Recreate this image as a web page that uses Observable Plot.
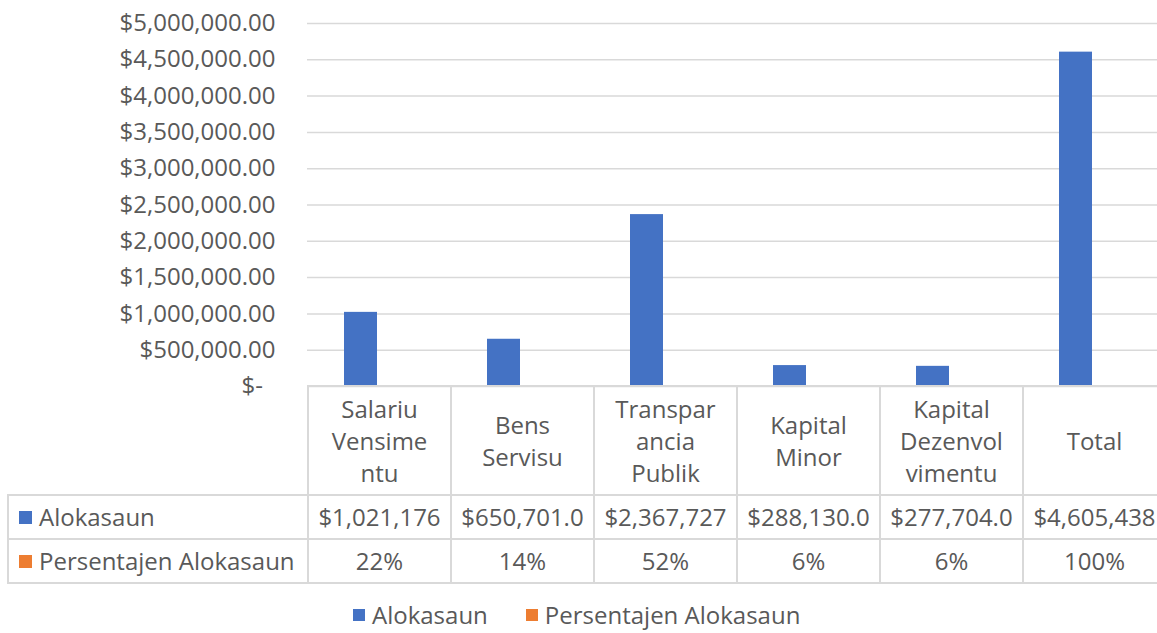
<!DOCTYPE html>
<html>
<head>
<meta charset="utf-8">
<script src="https://cdn.jsdelivr.net/npm/d3@7"></script>
<script src="https://cdn.jsdelivr.net/npm/@observablehq/plot@0.6"></script>
<style>
  html, body { margin: 0; padding: 0; background: #fff; overflow: hidden; }
  #wrap { position: relative; width: 1166px; height: 633px; font-family: 'Open Sans', sans-serif; color: #595959; }
  #wrap svg { position: absolute; left: 0; top: 0; max-width: none !important; }
  .cell { position: absolute; box-sizing: border-box; border: 2px solid #d9d9d9; display: flex; align-items: center; justify-content: center; text-align: center; font-size: 24px; line-height: 32px; white-space: nowrap; background: transparent; }
  .rowlabel { justify-content: flex-start; padding-left: 10px; }
  .sq { display: inline-block; width: 13px; height: 13px; margin-right: 7px; }
  #legend { position: absolute; top: 600px; left: 353px; font-size: 24px; line-height: 30px; display: flex; align-items: center; white-space: nowrap; }
  #legend .sq { width: 12px; height: 12px; margin-right: 7px; }
  #legend .item { display: flex; align-items: center; margin-right: 38px; }
</style>
</head>
<body>
<div id="wrap"></div>
<script>
// ---- data ----
const categories = ["Salariu Vensimentu", "Bens Servisu", "Transparancia Publik", "Kapital Minor", "Kapital Dezenvolvimentu", "Total"];
const headerLines = [["Salariu", "Vensime", "ntu"], ["Bens", "Servisu"], ["Transpar", "ancia", "Publik"], ["Kapital", "Minor"], ["Kapital", "Dezenvol", "vimentu"], ["Total"]];
const alokasaun = [1021176, 650701, 2367727, 288130, 277704, 4605438];
const persentajen = [0.22, 0.14, 0.52, 0.06, 0.06, 1.00];
const seriesNames = ["Alokasaun", "Persentajen Alokasaun"];
const seriesColors = ["#4472C4", "#ED7D31"];
const yTicks = [0, 500000, 1000000, 1500000, 2000000, 2500000, 3000000, 3500000, 4000000, 4500000, 5000000];

// ---- formats ----
const money2 = d3.format(",.2f");
const money1 = d3.format(",.1f");
const pct = d3.format(".0%");
const tickFmt = d => d === 0 ? "$-\u00a0\u00a0" : "$" + money2(d);
const cellMoney = d => ("$" + money1(d)).slice(0, 10); // cell text is cut like in the worksheet

const rowsA = categories.map((c, i) => ({category: c, value: alokasaun[i]}));
const rowsP = categories.map((c, i) => ({category: c, value: persentajen[i]}));

const chart = Plot.plot({
  width: 1166,
  height: 388,
  marginLeft: 307,
  marginRight: 0,
  marginTop: 23,
  marginBottom: 2,
  style: {fontFamily: "'Open Sans', sans-serif", fontSize: "24px", color: "#595959", background: "transparent", overflow: "visible"},
  x: {domain: categories, padding: 0, axis: null},
  y: {domain: [0, 5000000], ticks: yTicks, tickFormat: tickFmt, tickSize: 0, tickPadding: 32, label: null},
  marks: [
    Plot.ruleY(yTicks, {stroke: "#d9d9d9", strokeWidth: 1.5}),
    Plot.barY(rowsA, {x: "category", y: "value", fill: seriesColors[0], insetLeft: 36, insetRight: 74}),
    Plot.barY(rowsP, {x: "category", y: "value", fill: seriesColors[1], insetLeft: 69, insetRight: 41})
  ]
});
chart.style.maxWidth = "none";
const wrap = document.getElementById("wrap");
wrap.appendChild(chart);

// ---- data table positioned with the chart's own x and y scales ----
const xs = chart.scale("x");
const ys = chart.scale("y");
const bw = xs.bandwidth;
const top0 = ys.apply(0);           // table begins at the value axis baseline
const headerH = 109, rowH = 44;
const tableLeft = 8;
const firstX = xs.apply(categories[0]);

function cell(left, top, width, height, html, extraClass) {
  const d = document.createElement("div");
  d.className = "cell" + (extraClass ? " " + extraClass : "");
  d.style.left = (left - 1) + "px";
  d.style.top = (top - 1) + "px";
  d.style.width = (width + 2) + "px";
  d.style.height = (height + 2) + "px";
  d.innerHTML = html;
  wrap.appendChild(d);
  return d;
}

categories.forEach((c, i) => {
  const x0 = xs.apply(c);
  cell(x0, top0, bw, headerH, headerLines[i].join("<br>"));
  cell(x0, top0 + headerH, bw, rowH, cellMoney(alokasaun[i]));
  cell(x0, top0 + headerH + rowH, bw, rowH, pct(persentajen[i]));
});
cell(tableLeft, top0 + headerH, firstX - tableLeft, rowH,
  `<span class="sq" style="background:${seriesColors[0]}"></span>${seriesNames[0]}`, "rowlabel");
cell(tableLeft, top0 + headerH + rowH, firstX - tableLeft, rowH,
  `<span class="sq" style="background:${seriesColors[1]}"></span>${seriesNames[1]}`, "rowlabel");

// ---- legend ----
const legend = document.createElement("div");
legend.id = "legend";
legend.innerHTML = seriesNames.map((n, i) =>
  `<span class="item"><span class="sq" style="background:${seriesColors[i]}"></span>${n}</span>`).join("");
wrap.appendChild(legend);
</script>
</body>
</html>
